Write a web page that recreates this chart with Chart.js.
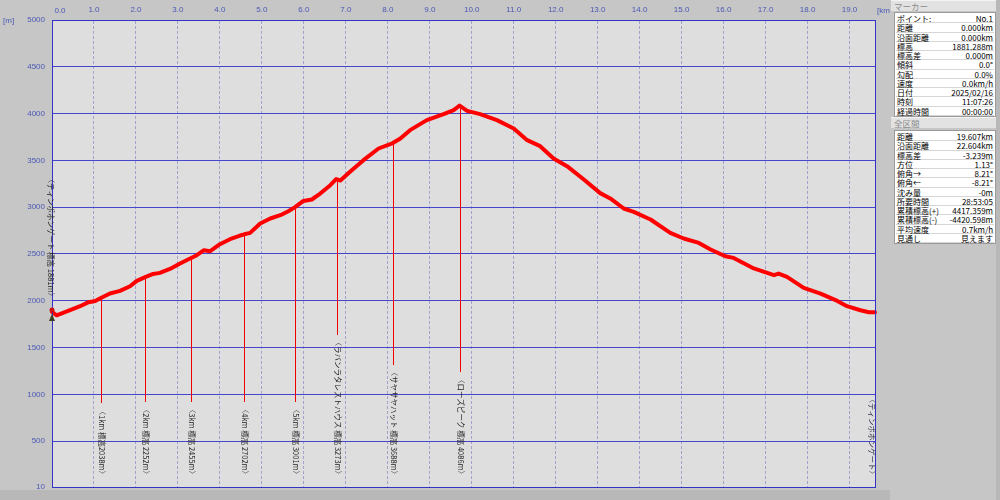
<!DOCTYPE html>
<html><head><meta charset="utf-8">
<script src="https://cdn.jsdelivr.net/npm/chart.js@4.4.1/dist/chart.umd.min.js"></script>
<style>
html,body{margin:0;padding:0;width:1000px;height:500px;overflow:hidden;background:#c6c6c6;}
#wrap{position:absolute;left:0;top:0;width:890px;height:500px;}
#panel{position:absolute;left:890px;top:0;width:110px;height:500px;background:#c6c6c6;font-family:"Noto Sans CJK JP",sans-serif;font-size:8px;color:#000;}
.hdr{position:absolute;left:1px;width:106px;height:11px;background:#e2e2e2;color:#8a8a8a;font-size:8.5px;line-height:11px;padding-left:3px;box-sizing:border-box;border-top:1px solid #f4f4f4;}
.tbl{position:absolute;left:4px;width:102px;background:#fff;border:1px solid #9a9a9a;box-sizing:border-box;}
.row{position:absolute;left:1px;right:1px;height:8.3px;border-bottom:1px solid #d6d6d6;line-height:9px;white-space:nowrap;}
.row .l{position:absolute;left:1px;top:0;}
.row .v{position:absolute;right:1px;top:0;}
#strip{position:absolute;left:106px;top:0;width:4px;height:500px;background:#b8b8b8;}
</style>
</head><body>
<div id="wrap"><canvas id="c" width="890" height="500"></canvas></div>
<div id="panel">
  <div class="hdr" style="top:0px;">マーカー</div>
  <div class="tbl" id="t1" style="top:12px;"></div>
  <div class="hdr" style="top:117px;">全区間</div>
  <div class="tbl" id="t2" style="top:130px;"></div>
  <div id="strip"></div>
</div>
<script>
// ---- data ----
const distKm = [0.00,0.11,0.43,0.67,0.87,1.03,1.14,1.38,1.62,1.86,2.02,2.22,2.41,2.57,2.81,3.05,3.29,3.45,3.62,3.77,4.00,4.24,4.48,4.58,4.72,4.96,5.20,5.44,5.63,5.79,5.99,6.19,6.39,6.63,6.77,6.87,7.10,7.42,7.78,8.12,8.30,8.53,8.93,9.33,9.57,9.71,9.89,10.20,10.60,11.00,11.32,11.63,11.95,12.27,12.67,13.06,13.30,13.62,13.86,14.26,14.73,15.05,15.41,15.69,16.04,16.24,16.72,17.04,17.20,17.31,17.51,17.91,18.31,18.71,18.94,19.26,19.46,19.607];
const elevM = [1881,1845,1899,1942,1985,1998,2024,2077,2105,2155,2212,2252,2287,2298,2340,2398,2451,2487,2540,2530,2604,2658,2697,2710,2725,2826,2879,2914,2957,3001,3067,3082,3146,3235,3300,3285,3378,3502,3627,3685,3734,3823,3930,3994,4037,4086,4029,3994,3930,3841,3716,3652,3520,3438,3296,3150,3093,2986,2950,2868,2725,2665,2618,2548,2476,2458,2345,2298,2273,2291,2255,2137,2077,1998,1942,1899,1878,1878];
const xTicks = [0,1,2,3,4,5,6,7,8,9,10,11,12,13,14,15,16,17,18,19];
const yTicks = [10,500,1000,1500,2000,2500,3000,3500,4000,4500,5000];
const markerKm = [1.16,2.22,3.31,4.58,5.79,6.78,8.12,9.73];
const markerLabels = ['〈1km 標高2038m〉','〈2km 標高 2252m〉','〈3km 標高 2455m〉','〈4km 標高 2702m〉','〈5km 標高 3001m〉','〈ラバンラタレストハウス 標高 3273m〉','〈サヤサヤハット 標高 3688m〉','〈ローズピーク 標高 4086m〉'];
const startLabel = '〈ティンポホンゲート 標高 1881m〉';
const endLabel = '〈ティンポホンゲート〉';
const panel1Labels = ['ポイント:','距離','沿面距離','標高','標高差','傾斜','勾配','速度','日付','時刻','経過時間'];
const panel1Values = ['No.1','0.000km','0.000km','1881.288m','0.000m','0.0°','0.0%','0.0km/h','2025/02/16','11:07:26','00:00:00'];
const panel2Labels = ['距離','沿面距離','標高差','方位','俯角→','俯角←','沈み量','所要時間','累積標高(+)','累積標高(-)','平均速度','見通し'];
const panel2Values = ['19.607km','22.604km','-3.239m','1.13°','8.21°','-8.21°','-0m','28:53:05','4417.359m','-4420.598m','0.7km/h','見えます'];

// ---- panel ----
function fillTable(id, labels, values){
  const t = document.getElementById(id);
  const rh = 9.25;
  t.style.height = (labels.length*rh + 3) + 'px';
  labels.forEach((l,i)=>{
    const r = document.createElement('div');
    r.className='row';
    r.style.top = (1 + i*rh) + 'px';
    r.innerHTML = '<span class="l">'+l+'</span><span class="v">'+values[i]+'</span>';
    t.appendChild(r);
  });
}
fillTable('t1', panel1Labels, panel1Values);
fillTable('t2', panel2Labels, panel2Values);

// ---- chart ----
function elevAt(km){
  for(let i=1;i<distKm.length;i++){
    if(km<=distKm[i]){
      const t=(km-distKm[i-1])/(distKm[i]-distKm[i-1]);
      return elevM[i-1]+t*(elevM[i]-elevM[i-1]);
    }
  }
  return elevM[elevM.length-1];
}
const FONT_TICK = '8px "Liberation Sans"';
const MFONT = '7.5px "Noto Sans CJK JP"';
const bgPlugin = {
  id:'bg',
  beforeDraw(chart){
    const {ctx, chartArea:a} = chart;
    ctx.save();
    ctx.fillStyle='#c6c6c6'; ctx.fillRect(0,0,chart.width,chart.height);
    ctx.fillStyle='#b8b8b8'; ctx.fillRect(0,490,chart.width,10);
    ctx.fillStyle='#dedede'; ctx.fillRect(a.left,a.top,a.right-a.left,a.bottom-a.top);
    ctx.restore();
  },
  beforeDatasetsDraw(chart){
    const {ctx, chartArea:a, scales:{x,y}} = chart;
    ctx.save();
    ctx.font = MFONT;
    ctx.fillStyle='#f00000';
    markerKm.forEach((km,i)=>{
      const px = Math.round(x.getPixelForValue(km));
      const py = Math.round(y.getPixelForValue(elevAt(km)));
      const w = ctx.measureText(markerLabels[i]).width;
      const bottom = Math.round(a.bottom - 9 - w - 4);
      ctx.fillRect(px, py, 1, bottom-py);
    });
    ctx.restore();
  },
  afterDraw(chart){
    const {ctx, chartArea:a, scales:{x,y}} = chart;
    ctx.save();
    // frame
    ctx.strokeStyle='#3434c4'; ctx.lineWidth=1;
    ctx.strokeRect(Math.round(a.left)+0.5, Math.round(a.top)+0.5, Math.round(a.right-a.left), Math.round(a.bottom-a.top));
    // unit labels and first x tick label
    ctx.fillStyle='#4a58b4'; ctx.font=FONT_TICK; ctx.textBaseline='middle';
    ctx.textAlign='left';
    ctx.fillText('[m]', 3, 21);
    ctx.fillText('[km]', 877, 11);
    ctx.textAlign='center';
    ctx.fillText(Number(xTicks[0]).toFixed(1), x.getPixelForValue(xTicks[0])+8, 11);
    // marker labels
    ctx.font = MFONT;
    ctx.fillStyle='#222';
    markerKm.forEach((km,i)=>{
      const px = Math.round(x.getPixelForValue(km));
      ctx.save();
      ctx.translate(px+0.5, a.bottom-9);
      ctx.rotate(Math.PI/2);
      ctx.textAlign='right'; ctx.textBaseline='middle';
      ctx.fillText(markerLabels[i],0,0);
      ctx.restore();
    });
    // start label and icon
    const sx = x.getPixelForValue(distKm[0]), sy = y.getPixelForValue(elevM[0]);
    ctx.save();
    ctx.translate(sx-1, sy-12);
    ctx.rotate(Math.PI/2);
    ctx.textAlign='right'; ctx.textBaseline='middle';
    ctx.fillText(startLabel,0,0);
    ctx.restore();
    ctx.fillStyle='#d01010';
    ctx.beginPath(); ctx.arc(sx, sy-2, 2.5, 0, Math.PI*2); ctx.fill();
    ctx.fillStyle='#404020';
    ctx.beginPath(); ctx.moveTo(sx-3,sy+9); ctx.lineTo(sx,sy+2); ctx.lineTo(sx+3,sy+9); ctx.closePath(); ctx.fill();
    // end label
    const ex = x.getPixelForValue(distKm[distKm.length-1]);
    ctx.fillStyle='#30304a';
    ctx.save();
    ctx.translate(ex-3, a.bottom-9);
    ctx.rotate(Math.PI/2);
    ctx.textAlign='right'; ctx.textBaseline='middle';
    ctx.fillText(endLabel,0,0);
    ctx.restore();
    ctx.restore();
  }
};

new Chart(document.getElementById('c'), {
  type:'line',
  data:{datasets:[{
    data: distKm.map((d,i)=>({x:d,y:elevM[i]})),
    borderColor:'#ff0000', borderWidth:4, pointRadius:0, tension:0,
    borderJoinStyle:'round', borderCapStyle:'round', clip:6
  }]},
  options:{
    responsive:false, animation:false, devicePixelRatio:1,
    layout:{padding:{left:0,right:15,top:0,bottom:13}},
    plugins:{legend:{display:false}, tooltip:{enabled:false}},
    scales:{
      x:{
        type:'linear', position:'top', min:0, max:19.607,
        afterBuildTicks:s=>{ s.ticks = xTicks.map(v=>({value:v})); },
        afterFit:s=>{ s.height = 20; },
        ticks:{ callback:(v,i)=> i===0 ? '' : Number(v).toFixed(1), color:'#4a58b4', font:{family:'Liberation Sans', size:8}, padding:5, maxRotation:0, autoSkip:false },
        grid:{ color:'#a2a2cc', lineWidth:1, drawTicks:false },
        border:{ display:true, color:'#3434c4', dash:[3,2] }
      },
      y:{
        type:'linear', min:10, max:5000,
        afterBuildTicks:s=>{ s.ticks = yTicks.map(v=>({value:v})); },
        afterFit:s=>{ s.width = 52; },
        ticks:{ callback:v=>String(v), color:'#4a58b4', font:{family:'Liberation Sans', size:8}, padding:7 },
        grid:{ color:'#4646cc', lineWidth:1, drawTicks:false },
        border:{ display:true, color:'#3434c4' }
      }
    }
  },
  plugins:[bgPlugin]
});
</script>
</body></html>
